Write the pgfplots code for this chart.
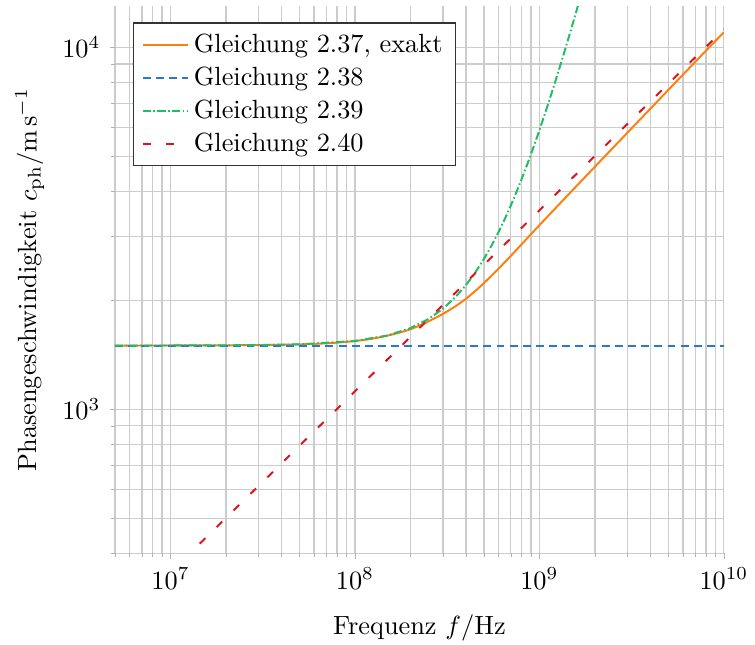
\documentclass[border=0pt]{standalone}
\usepackage{pgfplots}
\pgfplotsset{compat=1.18}
\definecolor{lineorange}{RGB}{255,127,14}
\definecolor{lineblue}{RGB}{40,120,210}
\definecolor{linegreen}{RGB}{30,190,100}
\definecolor{linered}{RGB}{220,20,30}
\begin{document}
\begin{tikzpicture}
\begin{axis}[
  scale only axis, width=231.4pt, height=208pt,
  xmode=log, ymode=log,
  xmin=5e6, xmax=1e10, ymin=400, ymax=13000,
  grid=both, grid style={gray!40, line width=0.5pt},
  axis line style={draw=none},
  tick pos=left, tick align=outside, tick style={gray!60},
  major tick length=2pt, minor tick length=1.4pt,
  xlabel={Frequenz $f/\mathrm{Hz}$},
  xlabel style={yshift=-3pt},
  ylabel={Phasengeschwindigkeit $c_{\mathrm{ph}}/\mathrm{m\,s^{-1}}$},
  legend pos=north west, legend cell align=left,
  legend style={draw=black!80, fill=white},
]
\addplot[color=lineorange, line width=0.75pt, solid] coordinates {
(5e6,1500) (1e7,1500.5) (2e7,1502) (3e7,1504) (4e7,1507) (5e7,1511) (6e7,1516)
(7e7,1521) (8e7,1528) (1e8,1543) (1.2e8,1562) (1.4e8,1585) (1.6e8,1610)
(1.8e8,1636) (2e8,1663) (2.25e8,1705) (2.5e8,1748) (3e8,1834) (3.5e8,1924)
(4e8,2019) (4.5e8,2124) (5e8,2230) (6e8,2443) (7e8,2653) (8e8,2855) (9e8,3045)
(1e9,3225) (1.25e9,3638) (1.5e9,4011) (2e9,4678) (2.5e9,5271) (3e9,5809)
(4e9,6770) (5e9,7625) (6e9,8400) (7e9,9115) (8e9,9785) (9e9,10410) (1e10,10990)
};
\addlegendentry{Gleichung 2.37, exakt}
\addplot[color=lineblue, line width=0.75pt, dash pattern=on 3pt off 2pt] coordinates {
(5e6,1500) (1e10,1500)
};
\addlegendentry{Gleichung 2.38}
\addplot[color=linegreen, line width=0.75pt, dash pattern=on 3pt off 1pt on 0.6pt off 1pt] coordinates {
(5e6,1500.0) (1e7,1500.4) (2e7,1501.8) (5e7,1511) (1e8,1544) (1.5e8,1599)
(2e8,1676) (2.5e8,1775) (3e8,1896) (3.5e8,2039) (4e8,2204) (4.5e8,2391)
(5e8,2600) (5.5e8,2831) (6e8,3084) (6.5e8,3359) (7e8,3656) (7.5e8,3975)
(8e8,4316) (8.5e8,4679) (9e8,5064) (9.5e8,5471) (1e9,5900) (1.1e9,6824)
(1.2e9,7836) (1.3e9,8936) (1.4e9,10124) (1.5e9,11400) (1.6e9,12764) (1.7e9,14216)
};
\addlegendentry{Gleichung 2.39}
\addplot[color=linered, line width=0.75pt, dash pattern=on 3pt off 6pt] coordinates {
(1.44e7,425.4) (1e10,11210)
};
\addlegendentry{Gleichung 2.40}
\end{axis}
\pgfresetboundingbox
\useasboundingbox ([xshift=-43.7pt,yshift=-34.5pt]current axis.south west) rectangle ([xshift=11.85pt,yshift=2.3pt]current axis.north east);
\end{tikzpicture}
\end{document}
